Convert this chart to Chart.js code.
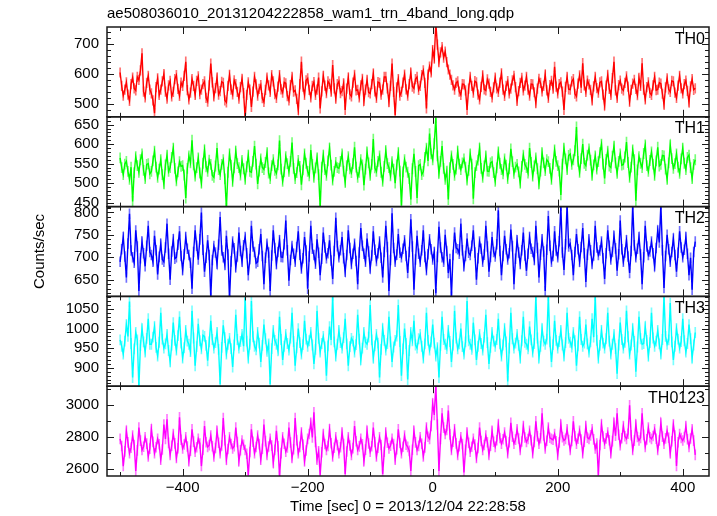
<!DOCTYPE html>
<html>
<head>
<meta charset="utf-8">
<title>WAM light curve</title>
<script src="https://cdn.jsdelivr.net/npm/chart.js@4"></script>
<style>
  html, body { margin: 0; padding: 0; background: #fff; }
</style>
</head>
<body>
<canvas id="lc" width="717" height="516"></canvas>
<script>
// time grid of the light curve (sec from 2013/12/04 22:28:58)
const tStart = -500;
const tStep = 2.5;

const th0 = [
  605, 560, 528, 548, 572, 531, 510, 566, 588, 552, 545, 590, 580, 612, 669, 541, 522, 570, 594, 548,
  535, 512, 469, 556, 585, 530, 548, 575, 600, 541, 518, 562, 577, 525, 540, 583, 596, 550, 527, 571,
  560, 594, 641, 546, 515, 538, 583, 560, 530, 577, 592, 533, 548, 566, 575, 520, 508, 562, 635, 572,
  525, 553, 588, 531, 543, 574, 570, 512, 505, 560, 597, 548, 532, 579, 566, 540, 518, 556, 584, 536,
  452, 530, 572, 548, 490, 541, 590, 565, 528, 550, 563, 519, 507, 547, 588, 562, 540, 596, 575, 533,
  520, 558, 596, 549, 538, 572, 569, 526, 512, 563, 590, 541, 545, 517, 480, 566, 641, 558, 530, 579,
  585, 547, 522, 560, 573, 530, 548, 588, 485, 542, 594, 561, 536, 575, 567, 541, 630, 552, 518, 566,
  575, 536, 543, 569, 480, 551, 588, 532, 525, 571, 597, 545, 547, 522, 562, 584, 510, 548, 580, 539,
  535, 566, 601, 542, 520, 573, 570, 531, 548, 590, 590, 552, 507, 560, 635, 540, 463, 555, 583, 528,
  540, 571, 598, 549, 528, 566, 605, 558, 552, 583, 590, 547, 560, 596, 612, 570, 485, 598, 625, 605,
  680, 652, 770, 698, 640, 672, 690, 655, 675, 640, 615, 598, 580, 562, 548, 570, 575, 541, 530, 566,
  565, 545, 480, 551, 590, 560, 538, 576, 572, 531, 515, 557, 595, 549, 545, 582, 568, 540, 522, 555,
  588, 552, 540, 571, 602, 548, 527, 560, 576, 535, 551, 579, 594, 556, 510, 543, 570, 587, 545, 561,
  590, 548, 528, 566, 565, 539, 503, 551, 584, 570, 542, 560, 598, 545, 520, 563, 577, 551, 624, 558,
  535, 566, 572, 541, 480, 557, 590, 549, 548, 575, 583, 534, 525, 568, 595, 554, 636, 562, 540, 578,
  565, 547, 512, 559, 590, 553, 538, 572, 575, 531, 495, 561, 597, 550, 530, 586, 641, 545, 520, 563,
  578, 551, 545, 570, 592, 558, 508, 547, 568, 580, 550, 529, 587, 560, 636, 548, 515, 556, 572, 537,
  530, 562, 590, 546, 548, 571, 568, 534, 498, 555, 585, 549, 540, 577, 575, 538, 520, 561, 594, 552,
  535, 566, 578, 544, 505, 559, 583, 547, 552
];
const th1 = [
  565, 540, 522, 549, 556, 530, 510, 541, 453, 527, 568, 545, 528, 560, 575, 533, 512, 548, 550, 524,
  530, 557, 582, 541, 515, 536, 560, 522, 498, 547, 572, 530, 540, 566, 590, 538, 506, 529, 555, 543,
  545, 521, 462, 538, 570, 552, 610, 547, 518, 540, 565, 526, 500, 551, 585, 542, 530, 559, 548, 520,
  515, 544, 590, 535, 522, 548, 560, 511, 436, 528, 575, 546, 505, 539, 582, 550, 540, 521, 558, 537,
  510, 542, 572, 530, 528, 556, 595, 549, 498, 531, 562, 540, 535, 553, 578, 526, 512, 545, 560, 533,
  525, 547, 609, 536, 505, 529, 568, 550, 530, 556, 604, 538, 512, 527, 558, 543, 496, 534, 575, 551,
  530, 519, 585, 548, 515, 539, 565, 522, 436, 541, 572, 535, 520, 557, 590, 546, 508, 530, 553, 540,
  538, 556, 575, 531, 502, 545, 568, 537, 527, 550, 592, 541, 515, 528, 560, 547, 495, 536, 580, 552,
  520, 548, 613, 539, 530, 556, 570, 528, 505, 543, 583, 550, 540, 519, 555, 536, 500, 547, 578, 531,
  443, 529, 560, 541, 528, 512, 458, 537, 575, 530, 462, 545, 548, 522, 530, 566, 590, 557, 627, 575,
  560, 601, 668, 570, 525, 556, 595, 538, 510, 531, 458, 540, 570, 548, 520, 536, 582, 549, 535, 552,
  562, 541, 508, 533, 575, 549, 460, 527, 545, 559, 590, 538, 515, 544, 570, 531, 530, 552, 555, 527,
  505, 539, 580, 551, 535, 524, 562, 546, 512, 537, 588, 555, 525, 541, 548, 529, 500, 543, 572, 548,
  540, 526, 590, 553, 518, 544, 565, 537, 498, 531, 578, 552, 532, 560, 555, 538, 510, 549, 585, 556,
  545, 531, 470, 549, 590, 562, 535, 571, 575, 548, 560, 583, 644, 556, 528, 563, 600, 551, 545, 572,
  588, 559, 520, 547, 570, 536, 555, 578, 600, 549, 512, 561, 582, 544, 540, 569, 595, 552, 525, 556,
  575, 546, 548, 567, 605, 553, 515, 541, 585, 560, 455, 534, 568, 551, 540, 576, 598, 545, 530, 558,
  580, 549, 520, 557, 592, 544, 548, 571, 570, 536, 510, 552, 598, 563, 538, 550, 575, 541, 525, 562,
  590, 551, 535, 566, 572, 540, 512, 548, 560
];
const th2 = [
  690, 718, 745, 702, 655, 731, 797, 715, 700, 688, 760, 724, 625, 698, 735, 709, 680, 726, 770, 712,
  705, 690, 748, 716, 662, 701, 730, 695, 690, 722, 775, 708, 650, 713, 740, 697, 700, 728, 758, 703,
  672, 707, 745, 719, 705, 688, 630, 712, 760, 726, 695, 740, 800, 717, 668, 699, 738, 705, 610, 694,
  725, 711, 685, 728, 790, 715, 700, 683, 748, 706, 605, 691, 735, 720, 678, 702, 755, 714, 690, 727,
  745, 709, 660, 696, 770, 724, 712, 687, 690, 718, 752, 703, 640, 699, 730, 711, 625, 704, 760, 721,
  685, 712, 738, 701, 700, 729, 782, 716, 648, 694, 725, 708, 690, 723, 758, 706, 675, 698, 745, 715,
  630, 702, 770, 719, 705, 686, 740, 710, 660, 697, 755, 722, 698, 709, 738, 693, 652, 714, 788, 725,
  700, 716, 745, 698, 668, 705, 760, 721, 685, 708, 730, 692, 640, 711, 765, 726, 708, 690, 742, 713,
  675, 704, 758, 717, 692, 709, 735, 699, 655, 712, 770, 723, 625, 694, 798, 721, 690, 706, 752, 710,
  700, 719, 738, 703, 665, 712, 785, 724, 628, 695, 748, 708, 690, 716, 760, 701, 672, 707, 740, 718,
  695, 712, 620, 701, 768, 722, 700, 690, 750, 714, 665, 696, 612, 705, 755, 721, 718, 708, 775, 716,
  680, 703, 742, 710, 705, 726, 760, 711, 650, 698, 735, 719, 690, 706, 770, 724, 668, 701, 745, 712,
  702, 729, 805, 714, 660, 703, 748, 718, 695, 709, 762, 725, 640, 697, 738, 711, 685, 716, 755, 704,
  670, 708, 745, 719, 712, 694, 770, 721, 655, 706, 740, 713, 625, 717, 792, 726, 690, 703, 758, 715,
  700, 736, 815, 711, 672, 729, 818, 724, 730, 705, 660, 712, 752, 718, 690, 723, 765, 709, 645, 706,
  740, 716, 685, 704, 770, 722, 705, 715, 735, 698, 652, 709, 760, 726, 695, 712, 748, 720, 670, 707,
  782, 718, 690, 711, 738, 702, 665, 714, 818, 727, 700, 719, 745, 706, 640, 700, 770, 724, 705, 713,
  735, 709, 680, 721, 760, 733, 818, 716, 632, 703, 750, 718, 690, 712, 742, 705, 668, 710, 758, 722,
  700, 717, 745, 708, 660, 699, 628, 712, 735
];
const th3 = [
  971, 955, 935, 968, 1010, 980, 1069, 962, 875, 948, 990, 971, 850, 957, 1000, 966, 940, 975, 1025, 960,
  960, 978, 1005, 952, 930, 965, 1040, 973, 950, 961, 985, 944, 915, 958, 1015, 970, 945, 982, 1030, 963,
  925, 951, 995, 968, 960, 941, 1045, 976, 905, 954, 1012, 969, 948, 983, 980, 957, 918, 966, 1020, 972,
  950, 964, 990, 947, 858, 952, 1008, 977, 935, 960, 975, 949, 902, 958, 1035, 972, 950, 967, 985, 955,
  1080, 968, 925, 960, 1070, 979, 955, 946, 990, 963, 915, 957, 1010, 974, 942, 961, 858, 949, 995, 970,
  960, 943, 1030, 972, 920, 955, 985, 962, 945, 976, 1040, 967, 905, 951, 1000, 964, 935, 959, 1020, 973,
  955, 969, 990, 958, 910, 947, 1045, 975, 940, 962, 980, 953, 880, 956, 1005, 971, 1085, 966, 930, 960,
  995, 964, 950, 977, 1025, 961, 905, 954, 975, 968, 940, 959, 1035, 973, 920, 950, 990, 965, 960, 978,
  1060, 971, 925, 956, 985, 963, 875, 947, 1000, 970, 945, 962, 1030, 966, 915, 953, 970, 981, 1060, 967,
  880, 948, 1000, 962, 870, 944, 990, 969, 1020, 958, 950, 974, 985, 955, 925, 961, 1040, 970, 945, 966,
  1010, 963, 930, 951, 875, 957, 1030, 972, 960, 949, 995, 967, 915, 958, 1045, 976, 948, 961, 1000, 954,
  935, 966, 1070, 969, 960, 947, 1015, 971, 920, 955, 985, 962, 945, 978, 1035, 964, 910, 952, 990, 968,
  955, 972, 1025, 961, 930, 958, 1000, 966, 865, 950, 1040, 974, 950, 963, 985, 957, 925, 969, 1030, 965,
  960, 948, 1005, 971, 940, 962, 1085, 976, 925, 955, 1000, 968, 960, 973, 1085, 966, 915, 959, 1020, 970,
  950, 967, 995, 958, 930, 964, 1040, 975, 965, 953, 990, 969, 905, 956, 1030, 972, 955, 963, 1010, 961,
  940, 966, 1025, 978, 1085, 970, 925, 957, 995, 963, 950, 974, 1040, 968, 935, 960, 985, 949, 885, 958,
  1015, 972, 950, 965, 1045, 979, 935, 958, 1000, 967, 890, 953, 1030, 974, 960, 962, 1005, 970, 930, 964,
  1040, 976, 955, 968, 995, 961, 935, 972, 1085, 980, 960, 971, 1065, 966, 920, 955, 1000, 973, 950, 967,
  1025, 969, 940, 962, 1010, 974, 925, 958, 990
];
const th0123 = [
  2790, 2745, 2620, 2712, 2840, 2768, 2700, 2735, 2810, 2752, 2590, 2718, 2860, 2779, 2720, 2741, 2800, 2760, 2680, 2729,
  2850, 2771, 2700, 2738, 2790, 2756, 2660, 2724, 2880, 2790, 2912, 2765, 2690, 2747, 2820, 2762, 2670, 2731, 2925, 2784,
  2730, 2755, 2800, 2742, 2650, 2716, 2850, 2773, 2710, 2738, 2790, 2761, 2620, 2722, 2870, 2769, 2740, 2751, 2810, 2744,
  2680, 2733, 2840, 2766, 2700, 2749, 2920, 2781, 2660, 2727, 2800, 2758, 2730, 2744, 2860, 2770, 2650, 2719, 2780, 2753,
  2720, 2697, 2564, 2708, 2850, 2772, 2700, 2739, 2810, 2757, 2660, 2728, 2880, 2776, 2690, 2742, 2790, 2748, 2640, 2721,
  2840, 2743, 2555, 2701, 2800, 2759, 2710, 2736, 2860, 2767, 2670, 2725, 2920, 2782, 2700, 2740, 2830, 2754, 2650, 2717,
  2790, 2820, 2890, 2799, 2956, 2771, 2660, 2712, 2564, 2706, 2820, 2758, 2720, 2745, 2850, 2763, 2680, 2734, 2800, 2752,
  2700, 2738, 2830, 2757, 2570, 2711, 2800, 2749, 2690, 2732, 2870, 2775, 2720, 2743, 2790, 2756, 2650, 2723, 2840, 2761,
  2710, 2744, 2860, 2770, 2680, 2735, 2800, 2752, 2570, 2709, 2830, 2766, 2730, 2747, 2790, 2758, 2660, 2726, 2850, 2764,
  2700, 2741, 2810, 2753, 2740, 2715, 2590, 2722, 2840, 2768, 2720, 2746, 2800, 2759, 2680, 2737, 2860, 2803, 2790, 2870,
  3010, 2940, 3125, 2880, 2590, 2790, 2950, 2860, 2820, 2845, 2967, 2818, 2720, 2773, 2850, 2762, 2690, 2744, 2800, 2757,
  2580, 2721, 2830, 2765, 2710, 2741, 2790, 2754, 2670, 2733, 2860, 2777, 2720, 2752, 2810, 2769, 2690, 2748, 2840, 2772,
  2740, 2781, 2880, 2795, 2760, 2788, 2830, 2776, 2700, 2769, 2890, 2803, 2760, 2785, 2850, 2792, 2720, 2774, 2870, 2799,
  2770, 2789, 2840, 2782, 2700, 2771, 2900, 2806, 2760, 2794, 2950, 2811, 2730, 2778, 2860, 2797, 2790, 2784, 2820, 2775,
  2690, 2768, 2880, 2801, 2780, 2790, 2850, 2783, 2720, 2777, 2900, 2808, 2760, 2791, 2840, 2786, 2700, 2772, 2870, 2798,
  2790, 2812, 2850, 2787, 2730, 2760, 2564, 2752, 2880, 2805, 2760, 2793, 2830, 2781, 2700, 2776, 2890, 2809, 2950, 2816,
  2750, 2794, 2870, 2806, 2790, 2822, 3000, 2813, 2720, 2779, 2880, 2802, 2780, 2796, 2950, 2815, 2740, 2787, 2860, 2800,
  2790, 2808, 2850, 2791, 2720, 2780, 2890, 2804, 2760, 2793, 2840, 2797, 2700, 2775, 2880, 2810, 2620, 2769, 2820, 2795,
  2780, 2801, 2870, 2788, 2740, 2792, 2850, 2779, 2690
];

const panelNames = ['TH0', 'TH1', 'TH2', 'TH3', 'TH0123'];
const xTicks = [-400, -200, 0, 200, 400];
const th0Ticks = [500, 600, 700];
const th1Ticks = [450, 500, 550, 600, 650];
const th2Ticks = [650, 700, 750, 800];
const th3Ticks = [900, 950, 1000, 1050];
const th0123Ticks = [2600, 2800, 3000];

const FONT = '"Liberation Sans", Arial, Helvetica, sans-serif';

// err = half length of the error bar in counts/sec
const panels = [
  { id: 'th0', name: panelNames[0], values: th0, ticks: th0Ticks, minor: 20, min: 457, max: 757, err: 16, color: '#ff0000', light: '#ff7070' },
  { id: 'th1', name: panelNames[1], values: th1, ticks: th1Ticks, minor: 10, min: 440, max: 670, err: 13, color: '#00ff00', light: '#78ff78' },
  { id: 'th2', name: panelNames[2], values: th2, ticks: th2Ticks, minor: 10, min: 613, max: 813, err: 11, color: '#0000ff', light: '#7070ff' },
  { id: 'th3', name: panelNames[3], values: th3, ticks: th3Ticks, minor: 10, min: 853, max: 1082, err: 13, color: '#00ffff', light: '#78ffff' },
  { id: 'th0123', name: panelNames[4], values: th0123, ticks: th0123Ticks, minor: 100, min: 2558, max: 3119, err: 31, color: '#ff00ff', light: '#ff78ff' }
];

Chart.defaults.font.family = FONT;
Chart.defaults.font.size = 15;
Chart.defaults.color = '#000';

const datasets = [];
panels.forEach(p => {
  datasets.push({
    type: 'line',
    data: p.values.map((v, i) => ({ x: tStart + i * tStep, y: v })),
    yAxisID: p.id,
    borderColor: p.color,
    borderWidth: 1.4,
    pointRadius: 0,
    order: 0
  });
  // error bars as thin floating bars
  datasets.push({
    type: 'bar',
    data: p.values.map((v, i) => ({ x: tStart + i * tStep, y: [v - p.err, v + p.err] })),
    yAxisID: p.id,
    backgroundColor: p.light,
    borderWidth: 0,
    barThickness: 1,
    grouped: false,
    order: 1
  });
});

const scales = {
  x: {
    type: 'linear',
    position: 'bottom',
    offset: false,
    min: -521,
    max: 442,
    grid: { display: false, drawTicks: false },
    border: { display: false },
    ticks: {
      padding: 3,
      maxRotation: 0,
      autoSkip: false,
      callback: v => String(v).replace('-', '\u2212')
    },
    afterBuildTicks: s => { s.ticks = xTicks.map(v => ({ value: v })); },
    title: {
      display: true,
      text: 'Time [sec] 0 = 2013/12/04 22:28:58',
      padding: { top: 1, bottom: 0 }
    },
    afterFit: s => { s.height = 40; }
  }
};

// bottom panel first: the last left axis gets stacked on top
[...panels].reverse().forEach(p => {
  scales[p.id] = {
    type: 'linear',
    position: 'left',
    stack: 'panels',
    stackWeight: 1,
    min: p.min,
    max: p.max,
    grid: { display: false, drawTicks: false },
    border: { display: false },
    ticks: { padding: 8, autoSkip: false, callback: v => String(v) },
    afterBuildTicks: s => { s.ticks = p.ticks.map(v => ({ value: v })); },
    title: {
      display: p.id === 'th2',
      text: 'Counts/sec',
      padding: { top: 31, bottom: 0 }
    },
    afterFit: s => { s.width = 107; }
  };
});

const panelFrame = {
  id: 'panelFrame',
  beforeDatasetDraw(chart, args) {
    const ys = args.meta.yScale, a = chart.chartArea, ctx = chart.ctx;
    ctx.save();
    ctx.beginPath();
    ctx.rect(a.left, ys.top, a.right - a.left, ys.bottom - ys.top);
    ctx.clip();
  },
  afterDatasetDraw(chart) {
    chart.ctx.restore();
  },
  afterDraw(chart) {
    const ctx = chart.ctx, a = chart.chartArea, xs = chart.scales.x;
    ctx.save();
    panels.forEach(p => {
      const ys = chart.scales[p.id];
      const top = ys.top, bot = ys.bottom;
      ctx.strokeStyle = '#1a1a1a';
      ctx.lineWidth = 1;
      ctx.beginPath();
      for (let v = Math.ceil(xs.min / 100) * 100; v <= xs.max; v += 100) {
        const px = Math.round(xs.getPixelForValue(v)) + 0.5;
        const len = xTicks.includes(v) ? 7 : 4;
        ctx.moveTo(px, top); ctx.lineTo(px, top + len);
        ctx.moveTo(px, bot); ctx.lineTo(px, bot - len);
      }
      for (let v = Math.ceil(ys.min / p.minor) * p.minor; v <= ys.max; v += p.minor) {
        const py = Math.round(ys.getPixelForValue(v)) + 0.5;
        const len = p.ticks.includes(v) ? 7 : 4;
        ctx.moveTo(a.left, py); ctx.lineTo(a.left + len, py);
        ctx.moveTo(a.right, py); ctx.lineTo(a.right - len, py);
      }
      ctx.stroke();
      ctx.lineWidth = 1.5;
      ctx.strokeRect(a.left, top, a.right - a.left, bot - top);
      ctx.fillStyle = '#000';
      ctx.font = '16px ' + FONT;
      ctx.textAlign = 'right';
      ctx.textBaseline = 'alphabetic';
      ctx.fillText(p.name, a.right - 4, top + 16.5);
    });
    ctx.restore();
  }
};

new Chart(document.getElementById('lc'), {
  type: 'line',
  data: { datasets: datasets },
  options: {
    responsive: false,
    animation: false,
    events: [],
    layout: { padding: { left: 0, right: 8, top: 0, bottom: 0 } },
    scales: scales,
    plugins: {
      legend: { display: false },
      tooltip: { enabled: false },
      title: {
        display: true,
        text: 'ae508036010_20131204222858_wam1_trn_4band_long.qdp',
        align: 'start',
        fullSize: false,
        font: { size: 15, weight: 'normal' },
        color: '#000',
        padding: { top: 5, bottom: 4 }
      }
    }
  },
  plugins: [panelFrame]
});
</script>
</body>
</html>
